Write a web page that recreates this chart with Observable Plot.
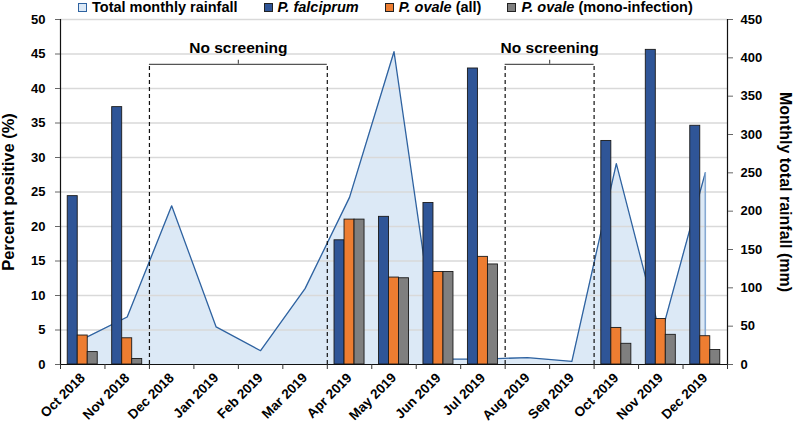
<!DOCTYPE html>
<html>
<head>
<meta charset="utf-8">
<script src="https://cdn.jsdelivr.net/npm/d3@7"></script>
<script src="https://cdn.jsdelivr.net/npm/@observablehq/plot@0.6"></script>
<style>
  body { margin: 0; background: white; font-family: "Liberation Sans", Arial, sans-serif; }
  #legend { height: 15px; line-height: 15px; font-size: 14.5px; font-weight: bold; padding-left: 78px;
            display: flex; align-items: center; white-space: nowrap; }
  #legend .item { display: flex; align-items: center; margin-right: 26px; }
  #legend .sw { width: 7px; height: 7px; border: 1px solid #333; margin-right: 5px; }
</style>
</head>
<body>
<div id="legend"></div>
<div id="chart"></div>
<script>
const months = ["Oct 2018", "Nov 2018", "Dec 2018", "Jan 2019", "Feb 2019", "Mar 2019", "Apr 2019",
  "May 2019", "Jun 2019", "Jul 2019", "Aug 2019", "Sep 2019", "Oct 2019", "Nov 2019", "Dec 2019"];
const falciparum = [24.4, 37.3, null, null, null, null, 18.0, 21.4, 23.4, 42.9, null, null, 32.4, 45.6, 34.6];
const ovaleAll   = [4.2, 3.8, null, null, null, null, 21.0, 12.6, 13.4, 15.6, null, null, 5.3, 6.6, 4.1];
const ovaleMono  = [1.8, 0.8, null, null, null, null, 21.0, 12.5, 13.4, 14.5, null, null, 3.0, 4.3, 2.1];
const rainfall   = [33, 62, 207, 49, 18, 99, 218, 408, 7, 7, 9, 4, 262, 37, 250]; // mm
const noScreening = [["Dec 2018", "Mar 2019"], ["Aug 2019", "Sep 2019"]];
const pctTicks = d3.range(0, 51, 5);
const rainTicks = d3.range(0, 451, 50);

const series = [
  {key: "falciparum", label: "<i>P. falciprum</i>", color: "#2f5597", values: falciparum},
  {key: "ovaleAll", label: "<i>P. ovale</i> (all)", color: "#ed7d31", values: ovaleAll},
  {key: "ovaleMono", label: "<i>P. ovale</i> (mono-infection)", color: "#7f7f7f", values: ovaleMono}
];
const rainFill = "#dce9f6", rainLine = "#2e62a0";
const mmPerPct = 450 / 50;

// legend
const legend = d3.select("#legend");
const addItem = (html, fill, stroke) => {
  const it = legend.append("div").attr("class", "item");
  it.append("div").attr("class", "sw").style("background", fill).style("border-color", stroke);
  it.append("span").html(html);
};
addItem("Total monthly rainfall", rainFill, rainLine);
series.forEach(s => addItem(s.label, s.color, "#222"));

// tables
const rain = rainfall.map((v, i) => ({i, xc: i + 0.5, mm: v, pct: v / mmPerPct}));
const bars = [];
series.forEach((s, k) => s.values.forEach((v, i) => {
  if (v != null) bars.push({i, k, series: s.key, value: v});
}));
const barW = 0.225, barOff = 0.1625;
const boxes = noScreening.map(([a, b]) => ({x1: months.indexOf(a), x2: months.indexOf(b) + 1}));
const boxTop = 43.5;

const chart = Plot.plot({
  width: 797,
  height: 410,
  marginLeft: 60,
  marginRight: 70,
  marginTop: 4,
  marginBottom: 61,
  x: {domain: [0, months.length], axis: null},
  y: {domain: [0, 50], axis: null},
  color: {domain: series.map(s => s.key), range: series.map(s => s.color)},
  style: {fontFamily: "'Liberation Sans', Arial, sans-serif", fontWeight: "bold", fontSize: "13px", color: "black", overflow: "visible"},
  marks: [
    Plot.areaY(rain, {x: "xc", y: "pct", fill: rainFill}),
    Plot.ruleY(pctTicks.filter(d => d > 0), {x1: 0, x2: months.length, stroke: "#d9d9d9", strokeWidth: 1.5}),
    Plot.lineY(rain, {x: "xc", y: "pct", stroke: rainLine, strokeWidth: 1.3}),
    Plot.ruleX(rain.slice(-1), {x: "xc", y1: 0, y2: "pct", stroke: "#86a9d2", strokeWidth: 1.6}),
    Plot.rectY(bars, {
      x1: d => d.i + barOff + d.k * barW,
      x2: d => d.i + barOff + (d.k + 1) * barW,
      y: "value",
      fill: "series",
      stroke: "#1a1a1a",
      strokeWidth: 0.9
    }),
    // no screening brackets
    Plot.ruleX(boxes.flatMap(b => [b.x1, b.x2]), {y1: 0, y2: boxTop, stroke: "#111", strokeWidth: 1.2, strokeDasharray: "4,3"}),
    Plot.ruleY(boxes, {x1: "x1", x2: "x2", y: boxTop, stroke: "#555", strokeWidth: 1.2}),
    Plot.ruleX(boxes, {x: b => (b.x1 + b.x2) / 2, y1: boxTop, y2: boxTop + 0.6, stroke: "#555", strokeWidth: 1.2}),
    Plot.text(boxes, {x: b => (b.x1 + b.x2) / 2, y: 45.9, text: () => "No screening", fontSize: 15.5}),
    // axes
    Plot.ruleY([0], {x1: 0, x2: months.length, stroke: "#111", strokeWidth: 1.2}),
    Plot.ruleX([0, months.length], {y1: 0, y2: 50, stroke: "#111", strokeWidth: 1.2}),
    Plot.axisY(pctTicks, {anchor: "left", tickSize: 5, tickPadding: 10, label: null, stroke: "#666"}),
    Plot.axisY(rainTicks.map(v => v / mmPerPct), {anchor: "right", tickSize: 5, tickPadding: 8, label: null,
      tickFormat: d => Math.round(d * mmPerPct), stroke: "#666"}),
    Plot.axisX(d3.range(0, months.length + 1), {tickSize: 5, tickFormat: () => "", label: null, stroke: "#333"}),
    Plot.axisX(months.map((m, i) => i + 0.5), {tickSize: 0, tickPadding: 11, tickRotate: -45, label: null,
      fontSize: 13.5, tickFormat: d => months[Math.floor(d)]}),
    Plot.text(["Percent positive (%)"], {frameAnchor: "left", textAnchor: "middle", dx: -52, rotate: -90, fontSize: 16.5}),
    Plot.text(["Monthly total rainfall (mm)"], {frameAnchor: "right", textAnchor: "middle", dx: 58, rotate: 90, fontSize: 16})
  ]
});
d3.select("#chart").append(() => chart);
</script>
</body>
</html>
